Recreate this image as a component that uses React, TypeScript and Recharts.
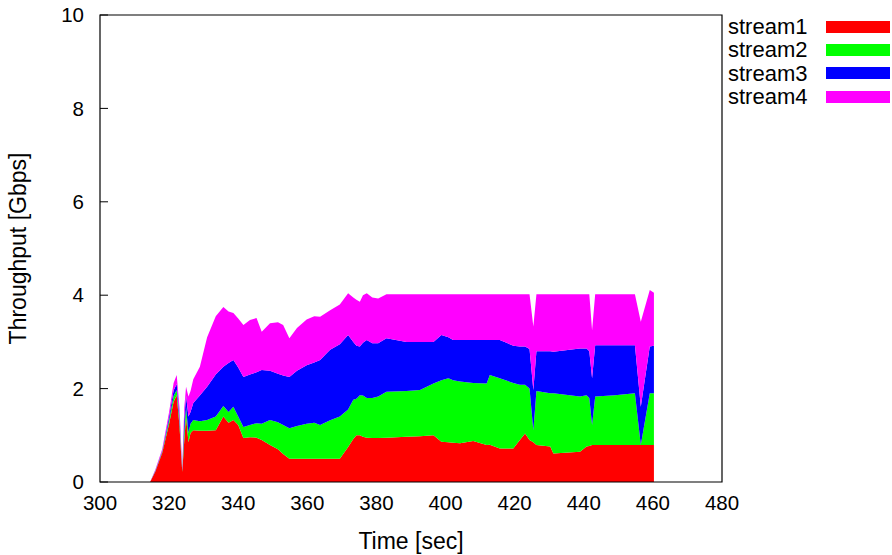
import {
  Area,
  AreaChart,
  Legend,
  ReferenceArea,
  XAxis,
  YAxis,
} from "recharts";

// sample times (sec)
const times = [
  314.5, 316, 318, 320, 321.3, 322.2, 323.0, 323.8, 324.4, 324.9, 325.6, 326.2,
  327, 328.9, 331, 333.5, 335.7, 337.2, 338.6, 340, 341.5, 343.4, 345.3, 346.8,
  349.2, 351.5, 353, 354.8, 357, 359.8, 362, 363.7, 366.6, 369.4, 371.8, 373.3,
  374.2, 375.2, 376.1, 377.2, 378.8, 380.5, 382.9, 388.7, 392.6, 396.5, 398.8,
  400.8, 402.2, 404.2, 408, 411.9, 412.8, 415.7, 419.6, 421.5, 423, 424.3,
  425.4, 426.3, 430.3, 431.2, 438.9, 440.8, 441.6, 442.4, 443.3, 449, 454.8,
  456.5, 459.1, 460.3,
];

// per-stream throughput (Gbps)
const stream1 = [
  0, 0.22, 0.62, 1.25, 1.72, 1.86, 1.2, 0.22, 0.9, 1.4, 0.85, 1.05,
  1.11, 1.1, 1.1, 1.11, 1.4, 1.27, 1.33, 1.22, 0.94, 0.96, 0.95, 0.9,
  0.79, 0.7, 0.6, 0.5, 0.5, 0.5, 0.5, 0.5, 0.5, 0.5, 0.75, 0.92,
  1.0, 1.0, 0.97, 0.95, 0.94, 0.94, 0.95, 0.97, 0.98, 1.0, 0.86,
  0.85, 0.84, 0.83, 0.88, 0.79, 0.8, 0.72, 0.72, 0.9, 1.04, 0.9,
  0.85, 0.79, 0.76, 0.61, 0.65, 0.76, 0.77, 0.79, 0.79, 0.79, 0.79,
  0.79, 0.79, 0.79,
];
const stream2 = [
  0, 0.01, 0.02, 0.07, 0.12, 0.11, 0.1, 0.02, 0.2, 0.2, 0.2, 0.2,
  0.22, 0.2, 0.23, 0.29, 0.23, 0.23, 0.28, 0.18, 0.24, 0.26, 0.31, 0.35,
  0.54, 0.58, 0.62, 0.65, 0.7, 0.75, 0.77, 0.72, 0.82, 0.9, 0.8, 0.84,
  0.78, 0.86, 0.88, 0.85, 0.86, 0.89, 0.98, 0.98, 0.99, 1.11, 1.32,
  1.37, 1.34, 1.32, 1.24, 1.32, 1.49, 1.5, 1.4, 1.18, 1.04, 1.1,
  0.26, 1.16, 1.14, 1.29, 1.18, 1.1, 1.03, 0.43, 1.04, 1.07, 1.11,
  0, 1.11, 1.11,
];
const stream3 = [
  0, 0.01, 0.02, 0.08, 0.12, 0.13, 0.1, 0.02, 0.25, 0.25, 0.35, 0.25,
  0.36, 0.55, 0.71, 0.9, 0.84, 1.05, 1.0, 1.05, 1.07, 1.08, 1.09, 1.15,
  1.05, 1.04, 1.06, 1.1, 1.18, 1.25, 1.29, 1.39, 1.51, 1.55, 1.6, 1.24,
  1.14, 1.04, 1.13, 1.24, 1.17, 1.14, 1.15, 1.05, 1.03, 0.89, 0.97,
  0.88, 0.86, 0.89, 0.92, 0.93, 0.75, 0.82, 0.8, 0.82, 0.82, 0.85,
  0.86, 0.85, 0.9, 0.89, 1.03, 1.0, 1.0, 1.0, 1.1, 1.07, 1.03,
  0.82, 1.0, 1.02,
];
const stream4 = [
  0, 0.02, 0.04, 0.1, 0.16, 0.19, 0.2, 0.04, 0.25, 0.19, 0.43, 0.45,
  0.51, 0.62, 1.06, 1.25, 1.28, 1.1, 1.01, 1.05, 1.11, 1.17, 1.16, 0.82,
  1.02, 1.1, 1.08, 0.83, 0.92, 0.98, 0.99, 0.93, 0.85, 0.85, 0.89, 0.95,
  0.98, 0.96, 1.02, 1.0, 0.98, 0.96, 0.94, 1.02, 1.02, 1.02, 0.87,
  0.92, 0.98, 0.98, 0.98, 0.98, 0.98, 0.98, 1.1, 1.12, 1.12, 1.17,
  1.36, 1.22, 1.22, 1.23, 1.16, 1.16, 1.22, 1.03, 1.09, 1.09, 1.09,
  1.82, 1.21, 1.13,
];

const xTicks = [300, 320, 340, 360, 380, 400, 420, 440, 460, 480];
const yTicks = [0, 2, 4, 6, 8, 10];

const streams = ["stream1", "stream2", "stream3", "stream4"];
const colors = ["#ff0000", "#00ff00", "#0000ff", "#ff00ff"];

const data = times.map((t, i) => ({
  t,
  stream1: stream1[i],
  stream2: stream2[i],
  stream3: stream3[i],
  stream4: stream4[i],
}));

const font = "'Liberation Sans', Arial, sans-serif";
const tickStyle = { fontSize: 20.5, fill: "#000", fontFamily: font };

function StreamLegend(props: any) {
  const items = props.payload ?? [];
  return (
    <div style={{ fontFamily: font, fontSize: 22, color: "#000" }}>
      {items.map((entry: any) => {
        const idx = streams.indexOf(entry.dataKey ?? entry.value);
        return (
          <div
            key={entry.value}
            style={{ display: "flex", alignItems: "center", height: 23.3 }}
          >
            <span style={{ width: 98, lineHeight: "23px" }}>{entry.value}</span>
            <span
              style={{ width: 64, height: 12, background: colors[idx] }}
            />
          </div>
        );
      })}
    </div>
  );
}

export default function App() {
  return (
    <div style={{ width: 892, height: 555, background: "#fff" }}>
      <style>{"body{margin:0}"}</style>
      <AreaChart
        width={892}
        height={555}
        data={data}
        margin={{ top: 15, right: 170, bottom: 0, left: 0 }}
      >
        <XAxis
          dataKey="t"
          type="number"
          domain={[300, 480]}
          ticks={xTicks}
          allowDataOverflow
          axisLine={false}
          tickLine={false}
          tickSize={0}
          tickMargin={13}
          height={73}
          tick={tickStyle}
          label={{
            value: "Time [sec]",
            position: "insideBottom",
            offset: 6,
            style: { fontSize: 23, fill: "#000", fontFamily: font },
          }}
        />
        <YAxis
          type="number"
          domain={[0, 10]}
          ticks={yTicks}
          axisLine={false}
          tickSize={-8}
          tickMargin={24}
          tickLine={{ stroke: "#000" }}
          width={100}
          tick={tickStyle}
          label={{
            value: "Throughput [Gbps]",
            angle: -90,
            position: "insideLeft",
            offset: 18,
            style: {
              fontSize: 23,
              fill: "#000",
              fontFamily: font,
              textAnchor: "middle",
            },
          }}
        />
        <YAxis
          yAxisId="right"
          orientation="right"
          type="number"
          domain={[0, 10]}
          ticks={yTicks}
          axisLine={false}
          tickSize={-8}
          tickLine={{ stroke: "#000" }}
          tickFormatter={() => ""}
          width={0}
        />
        {streams.map((key, i) => (
          <Area
            key={key}
            type="linear"
            dataKey={key}
            stackId="1"
            stroke="none"
            fill={colors[i]}
            fillOpacity={1}
            isAnimationActive={false}
          />
        ))}
        <ReferenceArea
          x1={300}
          x2={480}
          y1={0}
          y2={10}
          fill="none"
          stroke="#000"
          strokeWidth={1.2}
          ifOverflow="visible"
        />
        <Legend
          layout="vertical"
          align="center"
          verticalAlign="middle"
          wrapperStyle={{ top: 15, left: 728, width: 164 }}
          content={StreamLegend}
        />
      </AreaChart>
    </div>
  );
}
